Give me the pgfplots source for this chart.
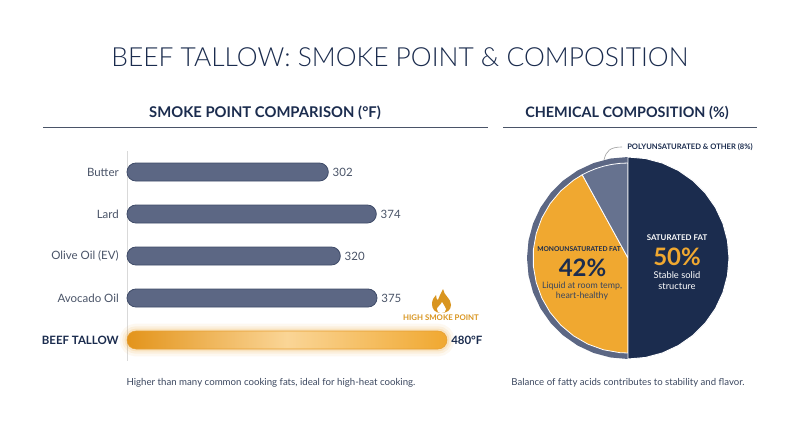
\documentclass[border=0pt]{standalone}
\usepackage{fontspec}
\setmainfont{Lato}
\newfontfamily\lightfont{Lato Light}
\usepackage{pgfplots}
\pgfplotsset{compat=1.18}
\usepgfplotslibrary{polar}
\definecolor{navy}{HTML}{1B2C4E}
\definecolor{slatebar}{HTML}{5C6784}
\definecolor{slateedge}{HTML}{3F4B68}
\definecolor{slatewedge}{HTML}{66728F}
\definecolor{gold}{HTML}{F0A830}
\definecolor{golddark}{HTML}{E3941B}
\definecolor{goldlight}{HTML}{FAD596}
\definecolor{goldtext}{HTML}{D9951F}
\definecolor{textgray}{HTML}{4A5468}
\begin{document}
\begin{tikzpicture}[x=0.75pt,y=-0.75pt]
\path[use as bounding box,fill=white] (0,0) rectangle (800,447);
% titles
\node[font=\lightfont\fontsize{19.75pt}{24pt}\selectfont,text=navy] at (400,57) {BEEF TALLOW: SMOKE POINT \& COMPOSITION};
\node[font=\bfseries\fontsize{11.1pt}{13pt}\selectfont,text=navy] at (265,113) {SMOKE POINT COMPARISON (°F)};
\node[font=\bfseries\fontsize{10.8pt}{13pt}\selectfont,text=navy] at (627,113) {CHEMICAL COMPOSITION (\%)};
\draw[textgray,line width=0.6pt] (43,127) -- (488,127);
\draw[textgray,line width=0.6pt] (503,127) -- (757,127);
% bars
\begin{axis}[
  at={(95.25pt,-270.75pt)},anchor=south west,
  scale only axis,width=270pt,height=157.5pt,
  xmin=0,xmax=540,ymin=-0.5,ymax=4.5,y dir=reverse,
  axis x line=none,axis y line=left,
  axis line style={draw=black!15,line width=0.6pt,-},
  ytick={0,1,2,3,4},
  yticklabels={Butter,Lard,Olive Oil (EV),Avocado Oil,{\textbf{\textcolor{navy}{BEEF TALLOW}}}},
  major tick length=0pt,
  yticklabel style={font=\fontsize{8.6pt}{10pt}\selectfont,text=textgray,inner sep=0pt,xshift=-6pt},
  /pgf/number format/assume math mode=true,
  xbar,bar width=13.5pt,bar shift=0pt,clip=false,
  nodes near coords,
  nodes near coords align={horizontal},
  every node near coord/.append style={font=\fontsize{8.6pt}{10pt}\selectfont,text=textgray,inner sep=0pt,xshift=3pt},
]
\addplot[fill=slatebar,draw=slateedge,line width=0.6pt,rounded corners=6.7pt]
  coordinates {(302,0)(374,1)(320,2)(375,3)};
% soft glow around the tallow bar
\addplot[draw=gold,draw opacity=0.07,fill=none,line width=11pt,rounded corners=6.7pt,nodes near coords={}] coordinates {(480,4)};
\addplot[draw=gold,draw opacity=0.10,fill=none,line width=7pt,rounded corners=6.7pt,nodes near coords={}] coordinates {(480,4)};
\addplot[draw=gold,draw opacity=0.16,fill=none,line width=3.5pt,rounded corners=6.7pt,nodes near coords={}] coordinates {(480,4)};
\addplot[draw=golddark!90!white,line width=0.4pt,rounded corners=6.7pt,
  left color=golddark,right color=gold,middle color=goldlight,
  nodes near coords={\pgfmathprintnumber{\pgfplotspointmeta}°F},
  every node near coord/.append style={font=\bfseries\fontsize{8.6pt}{10pt}\selectfont,text=navy}]
  coordinates {(480,4)};
\end{axis}
% pie
\begin{polaraxis}[
  at={(471pt,-193.5pt)},anchor=center,
  scale only axis,width=151.5pt,height=151.5pt,
  xmin=0,xmax=360,ymin=0,ymax=101,hide axis,clip=false,
]
\addplot[fill=slatebar,draw=none] coordinates {(90,101)(100,101)(110,101)(120,101)(130,101)(140,101)(150,101)(160,101)(170,101)(180,101)(190,101)(200,101)(210,101)(220,101)(230,101)(240,101)(250,101)(260,101)(270,101)} --cycle;
\addplot[fill=gold,draw=white,line width=0.6pt,line join=round] coordinates {(0,0)(118.8,95)(125,95)(135,95)(145,95)(155,95)(165,95)(175,95)(185,95)(195,95)(205,95)(215,95)(225,95)(235,95)(245,95)(255,95)(265,95)(270,95)} --cycle;
\addplot[fill=slatewedge,draw=white,line width=0.6pt,line join=round] coordinates {(0,0)(90,95)(95,95)(100,95)(105,95)(110,95)(115,95)(118.8,95)} --cycle;
\addplot[fill=navy,draw=white,line width=0.7pt,line join=round] coordinates {(90,101)(80,101)(70,101)(60,101)(50,101)(40,101)(30,101)(20,101)(10,101)(0,101)(-10,101)(-20,101)(-30,101)(-40,101)(-50,101)(-60,101)(-70,101)(-80,101)(-90,101)} --cycle;
\end{polaraxis}
% pie annotations
\draw[black!35,line width=0.5pt] (604,160) .. controls (606,151) and (610,147) .. (622,147);
\node[font=\bfseries\fontsize{5.7pt}{7pt}\selectfont,text=navy,anchor=west,inner sep=0pt] at (627,147) {POLYUNSATURATED \& OTHER (8\%)};
\node[font=\bfseries\fontsize{5.9pt}{8pt}\selectfont,text=white] at (677,238) {SATURATED FAT};
\node[font=\bfseries\fontsize{18pt}{22pt}\selectfont,text=gold] at (677,257) {50\%};
\node[font=\fontsize{7pt}{8pt}\selectfont,text=white,align=center] at (677,280.5) {Stable solid\\structure};
\node[font=\bfseries\fontsize{5pt}{7pt}\selectfont,text=navy] at (579,249) {MONOUNSATURATED FAT};
\node[font=\bfseries\fontsize{18pt}{22pt}\selectfont,text=navy] at (582.5,268) {42\%};
\node[font=\fontsize{6.6pt}{7.6pt}\selectfont,text=textgray!60!navy,align=center] at (582,291) {Liquid at room temp,\\heart-healthy};
% flame icon
\fill[goldtext] (443,289) .. controls (444,296) and (451,298) .. (451,305)
  .. controls (451,310) and (447,313) .. (441,313)
  .. controls (435,313) and (432,309) .. (432,304)
  .. controls (432,300) and (434,297) .. (436,295)
  .. controls (436,298) and (437,300) .. (438,300)
  .. controls (439,297) and (441,293) .. (443,289) -- cycle;
\fill[white] (442,302) .. controls (443,305) and (446,307) .. (446,309)
  .. controls (446,312) and (444,313) .. (441.5,313)
  .. controls (438,313) and (437,311) .. (437,309)
  .. controls (437,307) and (441,305) .. (442,302) -- cycle;
\node[font=\bfseries\fontsize{5.85pt}{8pt}\selectfont,text=goldtext] at (441,318) {HIGH SMOKE POINT};
% captions
\node[font=\fontsize{7.25pt}{9pt}\selectfont,text=textgray!70!navy] at (271,383) {Higher than many common cooking fats, ideal for high-heat cooking.};
\node[font=\fontsize{7.2pt}{9pt}\selectfont,text=textgray!70!navy] at (628,383) {Balance of fatty acids contributes to stability and flavor.};
\end{tikzpicture}
\end{document}
